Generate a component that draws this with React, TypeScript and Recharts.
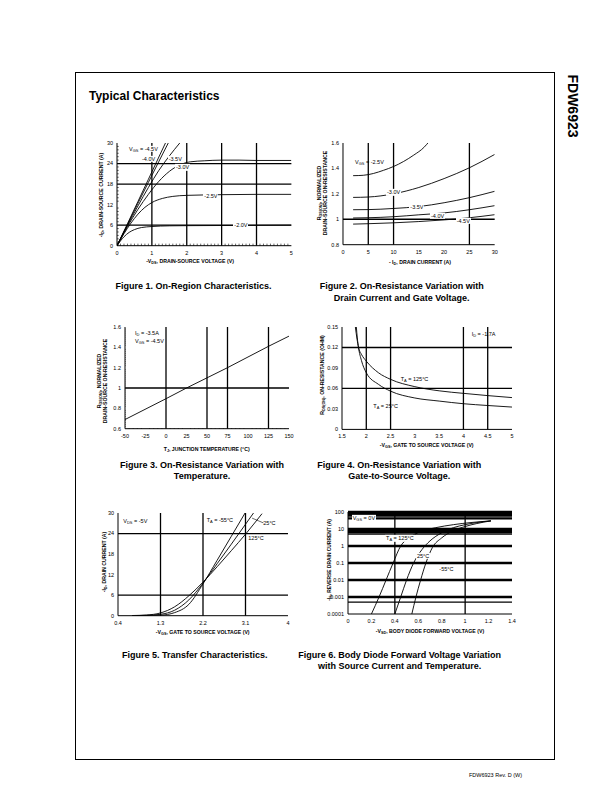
import React from 'react';
import { LineChart, Line, XAxis, YAxis, ReferenceLine } from 'recharts';

const FONT = '"Liberation Sans", Arial, Helvetica, sans-serif';

// ---------- Figure 1: On-Region Characteristics ----------
const fig1XTicks = [0, 1, 2, 3, 4, 5];
const fig1YTicks = [0, 6, 12, 18, 24, 30];
const fig1Vgs45 = [[0, 0], [0.3, 6.4], [0.6, 12.9], [0.9, 19.4], [1.2, 25.9], [1.39, 30]];
const fig1Vgs40 = [[0, 0], [0.3, 6.2], [0.6, 12.4], [0.9, 18.5], [1.2, 24.6], [1.47, 30]];
const fig1Vgs35 = [[0, 0], [0.3, 5.9], [0.6, 11.6], [0.9, 17.0], [1.2, 22.0], [1.5, 26.2], [1.8, 30]];
const fig1Vgs30 = [[0, 0], [0.3, 5.6], [0.6, 10.6], [0.9, 15.0], [1.2, 18.8], [1.5, 21.7], [1.8, 23.6], [2.1, 24.5], [2.5, 24.8], [3, 25.0], [3.5, 25.0], [4, 24.9], [5, 24.9]];
const fig1Vgs25 = [[0, 0], [0.2, 3.5], [0.4, 6.6], [0.6, 9.2], [0.8, 11.2], [1, 12.6], [1.3, 13.8], [1.6, 14.4], [2, 14.7], [3, 14.9], [4, 15.0], [5, 15.0]];
const fig1Vgs20 = [[0, 0], [0.1, 1.4], [0.2, 2.6], [0.35, 3.9], [0.5, 4.7], [0.7, 5.3], [1, 5.6], [1.5, 5.8], [2, 5.85], [3, 5.9], [5, 6.0]];
const fig1VGrid = [1, 2, 3, 4];
const fig1HGrid = [6, 18, 24];
const fig1XMinor = [0.1, 0.2, 0.3, 0.4, 0.5, 0.6, 0.7, 0.8, 0.9, 1.1, 1.2, 1.3, 1.4, 1.5, 1.6, 1.7, 1.8, 1.9, 2.1, 2.2, 2.3, 2.4, 2.5, 2.6, 2.7, 2.8, 2.9, 3.1, 3.2, 3.3, 3.4, 3.5, 3.6, 3.7, 3.8, 3.9, 4.1, 4.2, 4.3, 4.4, 4.5, 4.6, 4.7, 4.8, 4.9];
const fig1YMinor = [1, 2, 3, 4, 5, 7, 8, 9, 10, 11, 13, 14, 15, 16, 17, 19, 20, 21, 22, 23, 25, 26, 27, 28, 29];

// ---------- Figure 2: On-Resistance vs Drain Current ----------
const fig2XTicks = [0, 5, 10, 15, 20, 25, 30];
const fig2YTicks = [0.8, 1, 1.2, 1.4, 1.6];
const fig2Vgs25 = [[2, 1.343], [4, 1.346], [6, 1.36], [8, 1.385], [10, 1.415], [12, 1.455], [14, 1.505], [16, 1.565], [17, 1.61]];
const fig2Vgs30 = [[2, 1.172], [5, 1.175], [10, 1.2], [15, 1.25], [20, 1.32], [25, 1.405], [30, 1.51]];
const fig2Vgs35 = [[2, 1.075], [5, 1.076], [10, 1.085], [15, 1.1], [20, 1.13], [25, 1.17], [30, 1.22]];
const fig2Vgs40 = [[2, 1.01], [5, 1.012], [10, 1.02], [15, 1.035], [20, 1.05], [25, 1.075], [30, 1.107]];
const fig2Vgs45 = [[2, 0.962], [5, 0.965], [10, 0.972], [15, 0.982], [20, 0.995], [25, 1.012], [30, 1.036]];
const fig2VGrid = [5, 10, 25];
const fig2HGrid = [1];

// ---------- Figure 3: On-Resistance vs Temperature ----------
const fig3XTicks = [-50, -25, 0, 25, 50, 75, 100, 125, 150];
const fig3YTicks = [0.6, 0.8, 1, 1.2, 1.4, 1.6];
const fig3Line = [[-50, 0.69], [0, 0.895], [25, 1.0], [50, 1.1], [75, 1.2], [100, 1.305], [125, 1.41], [150, 1.51]];
const fig3VGrid = [0, 50, 75, 125];
const fig3HGrid = [1];
const fig3XMinor = [-45, -40, -35, -30, -20, -15, -10, -5, 5, 10, 15, 20, 30, 35, 40, 45, 55, 60, 65, 70, 80, 85, 90, 95, 105, 110, 115, 120, 130, 135, 140, 145];
const fig3YMinor = [0.62, 0.64, 0.66, 0.68, 0.7, 0.72, 0.74, 0.76, 0.78, 0.82, 0.84, 0.86, 0.88, 0.9, 0.92, 0.94, 0.96, 0.98, 1.02, 1.04, 1.06, 1.08, 1.1, 1.12, 1.14, 1.16, 1.18, 1.22, 1.24, 1.26, 1.28, 1.3, 1.32, 1.34, 1.36, 1.38, 1.42, 1.44, 1.46, 1.48, 1.5, 1.52, 1.54, 1.56, 1.58];

// ---------- Figure 4: On-Resistance vs Gate-to-Source Voltage ----------
const fig4XTicks = [1.5, 2, 2.5, 3, 3.5, 4, 4.5, 5];
const fig4YTicks = [0, 0.03, 0.06, 0.09, 0.12, 0.15];
const fig4T125 = [[1.775, 0.15], [1.81, 0.132], [1.84, 0.12], [1.9, 0.11], [2.0, 0.1], [2.25, 0.083], [2.5, 0.0733], [3, 0.0626], [3.5, 0.0565], [4, 0.0528], [4.5, 0.0495], [5, 0.0466]];
const fig4T25 = [[1.795, 0.15], [1.815, 0.134], [1.84, 0.12], [1.9, 0.101], [2.0, 0.083], [2.25, 0.066], [2.5, 0.056], [3, 0.046], [3.5, 0.0415], [4, 0.0376], [4.5, 0.035], [5, 0.0327]];
const fig4VGrid = [2, 2.5, 4, 4.5];
const fig4HGrid = [0.06, 0.12];

// ---------- Figure 5: Transfer Characteristics ----------
const fig5XTicks = [0.4, 1.3, 2.2, 3.1, 4];
const fig5YTicks = [0, 6, 12, 18, 24, 30];
const fig5Tm55 = [[0.8, 0], [1.0, 0.05], [1.3, 0.15], [1.6, 0.9], [1.9, 3.3], [2.2, 9.3], [2.5, 16.2], [2.8, 23.2], [3.1, 30.2]];
const fig5T25 = [[0.7, 0], [1.0, 0.1], [1.3, 0.4], [1.6, 1.6], [1.9, 4.6], [2.2, 9.5], [2.5, 15.2], [2.8, 20.9], [3.1, 26.7], [3.27, 30]];
const fig5T125 = [[0.7, 0.05], [1.0, 0.2], [1.3, 0.8], [1.6, 2.6], [1.9, 5.8], [2.2, 9.8], [2.5, 14.3], [2.8, 19], [3.1, 23.8], [3.45, 29.8]];
const fig5VGrid = [1.3, 2.2, 3.1];
const fig5HGrid = [6, 24];
const fig5Leader = [[3.24, 28.5], [3.48, 27.1]];

// ---------- Figure 6: Body Diode Forward Voltage ----------
const fig6XTicks = [0, 0.2, 0.4, 0.6, 0.8, 1, 1.2, 1.4];
const fig6YTicks = [0.0001, 0.001, 0.01, 0.1, 1, 10, 100];
const fig6T125 = [[0.2, 0.0001], [0.265, 0.001], [0.325, 0.01], [0.385, 0.1], [0.45, 1], [0.52, 3], [0.62, 7], [0.75, 12], [0.9, 18], [1.05, 24], [1.22, 30]];
const fig6T25 = [[0.4, 0.0001], [0.45, 0.001], [0.5, 0.01], [0.56, 0.1], [0.63, 0.6], [0.7, 2], [0.8, 6], [0.9, 12], [1.0, 18], [1.1, 24], [1.22, 30]];
const fig6Tm55 = [[0.545, 0.0001], [0.58, 0.001], [0.62, 0.01], [0.665, 0.1], [0.72, 0.8], [0.8, 3], [0.9, 8], [1.0, 14], [1.1, 21], [1.22, 30]];
const fig6VGrid = [0.4, 1];
const fig6HGridMajor = [100, 10, 1, 0.1, 0.01, 0.001];
const fig6HGridMinor = [90, 80, 70, 60, 50, 40, 9, 8, 7, 6, 5, 0.0005];

type Pair = number[];
const toPts = (arr: Pair[]) => arr.map(([x, y]) => ({ x, y }));

type PanelProps = {
  rect: [number, number, number, number];
  xDomain: [number, number];
  yDomain: [number, number];
  xTicks: number[];
  yTicks: number[];
  logY?: boolean;
  series: Pair[][];
  vGrid?: number[];
  hGrid?: number[];
  hGridThin?: number[];
  hGridWidth?: number;
  hGridThinWidth?: number;
  xMinor?: number[];
  yMinor?: number[];
  xMinorLen?: number;
  yMinorLen?: number;
  segments?: Pair[][];
};

function Panel(p: PanelProps) {
  const [l, t, r, b] = p.rect;
  const padL = 40, padR = 6, padT = 6, padB = 20;
  const w = r - l + padL + padR;
  const h = b - t + padT + padB;
  const tickStyle = { fontSize: 5.5, fill: '#000', fontFamily: FONT };
  const y0 = p.yDomain[0];
  const x0 = p.xDomain[0];
  return (
    <div style={{ position: 'absolute', left: l - padL, top: t - padT }}>
      <LineChart width={w} height={h} margin={{ top: padT, right: padR, left: 0, bottom: 0 }}>
        <XAxis
          type="number"
          dataKey="x"
          domain={p.xDomain}
          ticks={p.xTicks}
          interval={0}
          allowDataOverflow
          height={padB}
          tickLine={false}
          tickSize={0}
          tickMargin={5}
          tick={tickStyle}
          axisLine={{ stroke: '#000', strokeWidth: 1 }}
        />
        <YAxis
          type="number"
          domain={p.yDomain}
          ticks={p.yTicks}
          interval={0}
          allowDataOverflow
          width={padL}
          scale={p.logY ? 'log' : 'auto'}
          tickLine={false}
          tickSize={0}
          tickMargin={4}
          tick={tickStyle}
          axisLine={{ stroke: '#000', strokeWidth: 1 }}
        />
        {(p.vGrid || []).map((v) => (
          <ReferenceLine key={'v' + v} x={v} stroke="#000" strokeWidth={1.3} />
        ))}
        {(p.hGrid || []).map((v) => (
          <ReferenceLine key={'h' + v} y={v} stroke="#000" strokeWidth={p.hGridWidth || 1.3} />
        ))}
        {(p.hGridThin || []).map((v) => (
          <ReferenceLine key={'ht' + v} y={v} stroke="#000" strokeWidth={p.hGridThinWidth || 1} />
        ))}
        {(p.xMinor || []).map((v) => (
          <ReferenceLine key={'xm' + v} segment={[{ x: v, y: y0 }, { x: v, y: y0 + (p.xMinorLen || 0) }]} stroke="#000" strokeWidth={0.6} />
        ))}
        {(p.yMinor || []).map((v) => (
          <ReferenceLine key={'ym' + v} segment={[{ x: x0, y: v }, { x: x0 + (p.yMinorLen || 0), y: v }]} stroke="#000" strokeWidth={0.6} />
        ))}
        {(p.segments || []).map((s, i) => (
          <ReferenceLine key={'s' + i} segment={[{ x: s[0][0], y: s[0][1] }, { x: s[1][0], y: s[1][1] }]} stroke="#000" strokeWidth={0.6} />
        ))}
        {p.series.map((s, i) => (
          <Line
            key={'l' + i}
            data={toPts(s)}
            dataKey="y"
            type="monotone"
            dot={false}
            activeDot={false}
            stroke="#000"
            strokeWidth={0.9}
            isAnimationActive={false}
          />
        ))}
      </LineChart>
    </div>
  );
}

const Sub = ({ children }: { children: React.ReactNode }) => (
  <span style={{ fontSize: '0.72em', verticalAlign: '-0.3em', lineHeight: 0 }}>{children}</span>
);

type TxtProps = {
  x: number;
  y: number;
  children: React.ReactNode;
  size?: number;
  bold?: boolean;
  anchor?: 'start' | 'middle' | 'end';
  bg?: boolean;
  rotate?: number;
};

function Txt({ x, y, children, size = 5.5, bold = false, anchor = 'start', bg = false, rotate = 0 }: TxtProps) {
  const tx = rotate ? '-50%' : anchor === 'middle' ? '-50%' : anchor === 'end' ? '-100%' : '0';
  return (
    <div
      style={{
        position: 'absolute',
        left: x,
        top: y,
        transform: `translate(${tx},-50%)` + (rotate ? ` rotate(${rotate}deg)` : ''),
        fontFamily: FONT,
        fontSize: size,
        fontWeight: bold ? 700 : 400,
        lineHeight: 1.15,
        whiteSpace: 'nowrap',
        textAlign: 'center',
        color: '#000',
        background: bg ? '#fff' : 'transparent',
        padding: bg ? '0 1px' : 0,
      }}
    >
      {children}
    </div>
  );
}

export default function App() {
  return (
    <div style={{ position: 'absolute', left: 0, top: 0, width: 612, height: 792, background: '#fff', overflow: 'hidden' }}>
      {/* page frame */}
      <div style={{ position: 'absolute', left: 75, top: 72, width: 480, height: 688, border: '1px solid #000', boxSizing: 'border-box' }} />
      <Txt x={573} y={106} size={14} bold rotate={90}>FDW6923</Txt>
      <Txt x={89} y={97} size={12} bold>Typical Characteristics</Txt>

      {/* Figure 1 */}
      <Panel
        rect={[117.3, 143.3, 291.7, 246]}
        xDomain={[0, 5]}
        yDomain={[0, 30]}
        xTicks={fig1XTicks}
        yTicks={fig1YTicks}
        series={[fig1Vgs45, fig1Vgs40, fig1Vgs35, fig1Vgs30, fig1Vgs25, fig1Vgs20]}
        vGrid={fig1VGrid}
        hGrid={fig1HGrid}
        xMinor={fig1XMinor}
        xMinorLen={0.6}
        yMinor={fig1YMinor}
        yMinorLen={0.05}
      />
      <Txt x={128} y={149} bg>V<Sub>GS</Sub> = -4.5V</Txt>
      <Txt x={141} y={159} bg>-4.0V</Txt>
      <Txt x={167.7} y={159} bg>-3.5V</Txt>
      <Txt x={175} y={167.3} bg>-3.0V</Txt>
      <Txt x={203.3} y={195.7} bg>-2.5V</Txt>
      <Txt x={233.3} y={225} bg>-2.0V</Txt>
      <Txt x={102} y={195} size={5.2} bold rotate={-90}>-I<Sub>D</Sub>, DRAIN-SOURCE CURRENT (A)</Txt>
      <Txt x={190} y={261.7} size={5.2} bold anchor="middle">-V<Sub>DS</Sub>, DRAIN-SOURCE VOLTAGE (V)</Txt>
      <Txt x={193.5} y={286} size={9} bold anchor="middle">Figure 1. On-Region Characteristics.</Txt>

      {/* Figure 2 */}
      <Panel
        rect={[343.3, 143.3, 495, 245]}
        xDomain={[0, 30]}
        yDomain={[0.8, 1.6]}
        xTicks={fig2XTicks}
        yTicks={fig2YTicks}
        series={[fig2Vgs25, fig2Vgs30, fig2Vgs35, fig2Vgs40, fig2Vgs45]}
        vGrid={fig2VGrid}
        hGrid={fig2HGrid}
      />
      <Txt x={355} y={161.7}>V<Sub>GS</Sub> = -2.5V</Txt>
      <Txt x={386} y={192.3} bg>-3.0V</Txt>
      <Txt x={409.3} y={207.3} bg>-3.5V</Txt>
      <Txt x={430} y={215.7} bg>-4.0V</Txt>
      <Txt x={455.7} y={221} bg>-4.5V</Txt>
      <Txt x={322.5} y={193} size={5.2} bold rotate={-90}>
        R<Sub>DS(ON)</Sub>, NORMALIZED
        <br />
        DRAIN-SOURCE ON-RESISTANCE
      </Txt>
      <Txt x={420} y={263.3} size={5.2} bold anchor="middle">- I<Sub>D</Sub>, DRAIN CURRENT (A)</Txt>
      <Txt x={401.7} y={286} size={9} bold anchor="middle">Figure 2. On-Resistance Variation with</Txt>
      <Txt x={401.7} y={297.5} size={9} bold anchor="middle">Drain Current and Gate Voltage.</Txt>

      {/* Figure 3 */}
      <Panel
        rect={[125, 327.3, 289, 429]}
        xDomain={[-50, 150]}
        yDomain={[0.6, 1.6]}
        xTicks={fig3XTicks}
        yTicks={fig3YTicks}
        series={[fig3Line]}
        vGrid={fig3VGrid}
        hGrid={fig3HGrid}
        xMinor={fig3XMinor}
        xMinorLen={0.0066}
        yMinor={fig3YMinor}
        yMinorLen={0.8}
      />
      <Txt x={135} y={333}>I<Sub>D</Sub> = -3.5A</Txt>
      <Txt x={135} y={340.7}>V<Sub>GS</Sub> = -4.5V</Txt>
      <Txt x={103.3} y={381} size={5.2} bold rotate={-90}>
        R<Sub>DS(ON)</Sub>, NORMALIZED
        <br />
        DRAIN-SOURCE ON-RESISTANCE
      </Txt>
      <Txt x={206.7} y={449.7} size={5.2} bold anchor="middle">T<Sub>J</Sub>, JUNCTION TEMPERATURE (°C)</Txt>
      <Txt x={202} y={465} size={9} bold anchor="middle">Figure 3. On-Resistance Variation with</Txt>
      <Txt x={202} y={476} size={9} bold anchor="middle">Temperature.</Txt>

      {/* Figure 4 */}
      <Panel
        rect={[341.7, 327.3, 511.7, 429.7]}
        xDomain={[1.5, 5]}
        yDomain={[0, 0.15]}
        xTicks={fig4XTicks}
        yTicks={fig4YTicks}
        series={[fig4T125, fig4T25]}
        vGrid={fig4VGrid}
        hGrid={fig4HGrid}
      />
      <Txt x={471.7} y={334}>I<Sub>D</Sub> = -1.7A</Txt>
      <Txt x={400.7} y={379}>T<Sub>A</Sub> = 125°C</Txt>
      <Txt x={373.3} y={406.3}>T<Sub>A</Sub> = 25°C</Txt>
      <Txt x={322.7} y={374.7} size={5.2} bold rotate={-90}>R<Sub>DS(ON)</Sub>, ON-RESISTANCE (OHM)</Txt>
      <Txt x={426.7} y={446.3} size={5.2} bold anchor="middle">-V<Sub>GS</Sub>, GATE TO SOURCE VOLTAGE (V)</Txt>
      <Txt x={399.3} y={465} size={9} bold anchor="middle">Figure 4. On-Resistance Variation with</Txt>
      <Txt x={399.3} y={476} size={9} bold anchor="middle">Gate-to-Source Voltage.</Txt>

      {/* Figure 5 */}
      <Panel
        rect={[117.7, 513.3, 287.7, 616]}
        xDomain={[0.4, 4]}
        yDomain={[0, 30]}
        xTicks={fig5XTicks}
        yTicks={fig5YTicks}
        series={[fig5Tm55, fig5T25, fig5T125]}
        vGrid={fig5VGrid}
        hGrid={fig5HGrid}
        segments={[fig5Leader]}
      />
      <Txt x={123.3} y={521}>V<Sub>DS</Sub> = -5V</Txt>
      <Txt x={206.7} y={520}>T<Sub>A</Sub> = -55°C</Txt>
      <Txt x={263.3} y={523.3}>25°C</Txt>
      <Txt x={248.3} y={538.3}>125°C</Txt>
      <Txt x={105} y={561.7} size={5.2} bold rotate={-90}>-I<Sub>D</Sub>, DRAIN CURRENT (A)</Txt>
      <Txt x={202.7} y={633.3} size={5.2} bold anchor="middle">-V<Sub>GS</Sub>, GATE TO SOURCE VOLTAGE (V)</Txt>
      <Txt x={194.7} y={655} size={9} bold anchor="middle">Figure 5. Transfer Characteristics.</Txt>

      {/* Figure 6 */}
      <Panel
        rect={[347.7, 511.7, 511.7, 613.7]}
        xDomain={[0, 1.4]}
        yDomain={[0.0001, 100]}
        xTicks={fig6XTicks}
        yTicks={fig6YTicks}
        logY
        series={[fig6T125, fig6T25, fig6Tm55]}
        vGrid={fig6VGrid}
        hGrid={fig6HGridMajor}
        hGridWidth={2.6}
        hGridThin={fig6HGridMinor}
        hGridThinWidth={1.4}
      />
      <Txt x={351.7} y={517.7} bg>V<Sub>GS</Sub> = 0V</Txt>
      <Txt x={385} y={538.3} bg>T<Sub>A</Sub> = 125°C</Txt>
      <Txt x={416} y={555.7} bg>25°C</Txt>
      <Txt x={438.3} y={569.3} bg>-55°C</Txt>
      <Txt x={329.5} y={560} size={4.9} bold rotate={-90}>-I<Sub>S</Sub>, REVERSE DRAIN CURRENT (A)</Txt>
      <Txt x={430} y={631.7} size={5.2} bold anchor="middle">-V<Sub>SD</Sub>, BODY DIODE FORWARD VOLTAGE (V)</Txt>
      <Txt x={399.7} y={655} size={9} bold anchor="middle">Figure 6. Body Diode Forward Voltage Variation</Txt>
      <Txt x={399.7} y={666} size={9} bold anchor="middle">with Source Current and Temperature.</Txt>

      <Txt x={522} y={775} size={5.5} anchor="end">FDW6923 Rev. D (W)</Txt>
    </div>
  );
}
